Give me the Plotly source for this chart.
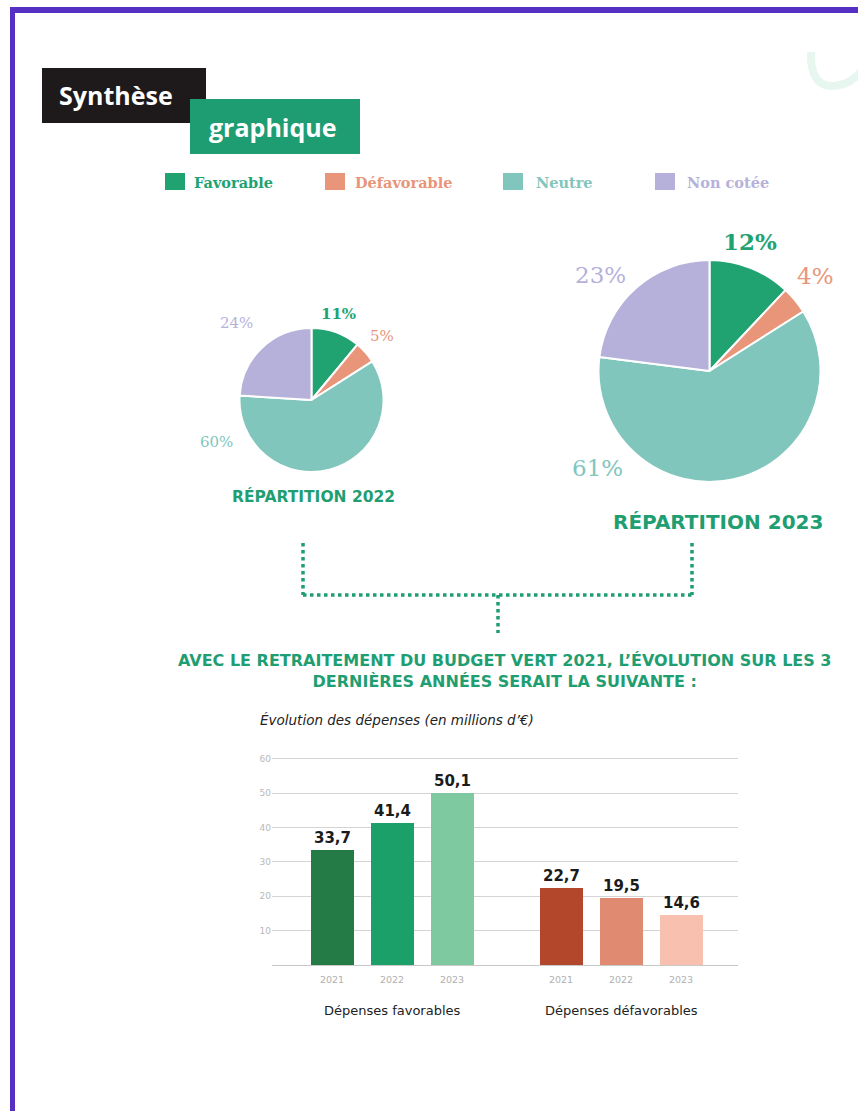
import plotly.graph_objects as go

W, H = 858, 1111

# ---------------- data ----------------
pie_labels = ["Favorable", "Défavorable", "Neutre", "Non cotée"]
pie_colors = ["#21a271", "#e8957a", "#80c6bd", "#b5b1db"]
pie_2022 = [11, 5, 60, 24]
pie_2023 = [12, 4, 61, 23]

years = ["2021", "2022", "2023"]
fav_values = [33.7, 41.4, 50.1]
defav_values = [22.7, 19.5, 14.6]
fav_colors = ["#247b46", "#1aa068", "#7ec9a0"]
defav_colors = ["#b3472b", "#e08b71", "#f8c0af"]
group_labels = ["Dépenses favorables", "Dépenses défavorables"]

GREEN = "#1f9e72"
SANS = "DejaVu Sans"
SERIF = "DejaVu Serif"


def X(px):
    return px / W


def Y(py):
    return 1 - py / H


def fmt(v):
    return f"{v:.1f}".replace(".", ",")


fig = go.Figure()

# ---------------- pies ----------------
def add_pie(values, cx, cy, r):
    fig.add_trace(go.Pie(
        labels=pie_labels, values=values, sort=False, direction="clockwise",
        rotation=0, textinfo="none", hoverinfo="label+percent",
        marker=dict(colors=pie_colors, line=dict(color="white", width=2)),
        domain=dict(x=[X(cx - r), X(cx + r)], y=[Y(cy + r), Y(cy - r)]),
        showlegend=False,
    ))

add_pie(pie_2022, 311.5, 400, 72)
add_pie(pie_2023, 709.5, 371, 111)

# ---------------- bars ----------------
step = 60.0
offset2 = (561 - 332) / step
x_fav = [i for i in range(3)]
x_def = [offset2 + i for i in range(3)]
bar_w = 43 / step

bar_font = dict(family=SANS, size=15, color="#1b1b1b", weight="bold")
fig.add_trace(go.Bar(
    x=x_fav, y=fav_values, width=bar_w, marker=dict(color=fav_colors, line=dict(width=0)),
    text=[fmt(v) for v in fav_values], textposition="outside", cliponaxis=False,
    textfont=bar_font, showlegend=False, xaxis="x", yaxis="y",
))
fig.add_trace(go.Bar(
    x=x_def, y=defav_values, width=bar_w, marker=dict(color=defav_colors, line=dict(width=0)),
    text=[fmt(v) for v in defav_values], textposition="outside", cliponaxis=False,
    textfont=bar_font, showlegend=False, xaxis="x", yaxis="y",
))

x_left_px, x_right_px = 272, 738
xr = [(x_left_px - 332) / step, (x_right_px - 332) / step]
px_per_unit = (965 - 759) / 60.0
y_top = 61

fig.update_layout(
    width=W, height=H, margin=dict(l=0, r=0, t=0, b=0),
    paper_bgcolor="white", plot_bgcolor="white",
    xaxis=dict(domain=[X(x_left_px), X(x_right_px)], range=xr,
               tickvals=x_fav + x_def, ticktext=years + years,
               tickfont=dict(family=SANS, size=9.5, color="#b0b0b0"),
               ticklabelstandoff=6,
               showgrid=False, zeroline=False, showline=True, linecolor="#c8c8c8",
               linewidth=1, ticks="", anchor="y"),
    yaxis=dict(domain=[Y(965), Y(965 - px_per_unit * y_top)], range=[0, y_top],
               tickvals=[10, 20, 30, 40, 50, 60],
               tickfont=dict(family=SANS, size=9, color="#b8b8b8"),
               showgrid=True, gridcolor="#d4d4d4", gridwidth=1,
               zeroline=False, showline=False, ticks="", anchor="x"),
    bargap=0,
)

shapes = []
ann = []

# purple frame
PURPLE = "#5530c2"
shapes.append(dict(type="rect", xref="paper", yref="paper", x0=X(10), x1=X(15), y0=Y(1111), y1=Y(7),
                   fillcolor=PURPLE, line=dict(width=0), layer="above"))
shapes.append(dict(type="rect", xref="paper", yref="paper", x0=X(10), x1=X(858), y0=Y(13), y1=Y(7),
                   fillcolor=PURPLE, line=dict(width=0), layer="above"))

# decoration top right
shapes.append(dict(type="path", xref="paper", yref="paper",
                   path=f"M {X(811)} {Y(52)} Q {X(810)} {Y(84)} {X(830)} {Y(86)} Q {X(850)} {Y(86)} {X(862)} {Y(70)}",
                   line=dict(color="#e8f6f0", width=8), layer="below"))

# header boxes
shapes.append(dict(type="rect", xref="paper", yref="paper", x0=X(42), x1=X(206), y0=Y(123), y1=Y(68),
                   fillcolor="#1e1a1b", line=dict(width=0)))
shapes.append(dict(type="rect", xref="paper", yref="paper", x0=X(190), x1=X(360), y0=Y(154), y1=Y(99),
                   fillcolor="#1f9d72", line=dict(width=0)))
ann.append(dict(text="Synthèse", x=X(57), y=Y(95), xanchor="left", yanchor="middle",
                font=dict(family="Open Sans", size=25, color="white", weight="bold")))
ann.append(dict(text="graphique", x=X(272), y=Y(127), xanchor="center", yanchor="middle",
                font=dict(family="Open Sans", size=25, color="white", weight="bold")))

# legend
leg_sq = [165, 325, 503, 655]
leg_tx = [192, 353, 534, 685]
for lab, col, sx, tx in zip(pie_labels, pie_colors, leg_sq, leg_tx):
    shapes.append(dict(type="rect", xref="paper", yref="paper", x0=X(sx), x1=X(sx + 20),
                       y0=Y(190), y1=Y(173), fillcolor=col, line=dict(width=0)))
    ann.append(dict(text=lab, x=X(tx), y=Y(182), xanchor="left", yanchor="middle",
                    font=dict(family=SERIF, size=14.5, color=col, weight="bold")))

# pie percent labels
weights = ["bold", "normal", "normal", "normal"]
p22_pos = [(338, 314), (382, 336), (216, 442), (237, 323)]
for v, col, wt, (px, py) in zip(pie_2022, pie_colors, weights, p22_pos):
    ann.append(dict(text=f"{v}%", x=X(px), y=Y(py), xanchor="center", yanchor="middle",
                    font=dict(family=SERIF, size=15, color=col, weight=wt)))
p23_pos = [(750, 242), (815, 276), (597, 468), (600, 275)]
for v, col, wt, (px, py) in zip(pie_2023, pie_colors, weights, p23_pos):
    ann.append(dict(text=f"{v}%", x=X(px), y=Y(py), xanchor="center", yanchor="middle",
                    font=dict(family=SERIF, size=23, color=col, weight=wt)))

ann.append(dict(text="RÉPARTITION 2022", x=X(313), y=Y(496), xanchor="center", yanchor="middle",
                font=dict(family=SANS, size=15.5, color=GREEN, weight="bold")))
ann.append(dict(text="RÉPARTITION 2023", x=X(718), y=Y(522), xanchor="center", yanchor="middle",
                font=dict(family=SANS, size=20, color=GREEN, weight="bold")))

# dotted connector
dot = dict(color=GREEN, width=3.5, dash="dot")
for (x0, y0, x1, y1) in [(303, 543, 303, 595), (692, 543, 692, 595), (303, 595, 692, 595), (498, 595, 498, 633)]:
    shapes.append(dict(type="line", xref="paper", yref="paper", x0=X(x0), y0=Y(y0), x1=X(x1), y1=Y(y1),
                       line=dot))

# heading
ann.append(dict(text="AVEC LE RETRAITEMENT DU BUDGET VERT 2021, L’ÉVOLUTION SUR LES 3<br>DERNIÈRES ANNÉES SERAIT LA SUIVANTE :",
                x=X(504), y=Y(671), xanchor="center", yanchor="middle", align="center",
                font=dict(family=SANS, size=16, color=GREEN, weight="bold")))

ann.append(dict(text="<i>Évolution des dépenses (en millions d’€)</i>", x=X(258), y=Y(720),
                xanchor="left", yanchor="middle",
                font=dict(family=SANS, size=13.5, color="#222222")))

# group labels
for lab, xs in zip(group_labels, [x_fav, x_def]):
    ann.append(dict(text=lab, xref="x", yref="paper", x=sum(xs) / len(xs), y=Y(1010),
                    xanchor="center", yanchor="middle", showarrow=False,
                    font=dict(family=SANS, size=13, color="#222222")))

for a in ann:
    a.setdefault("xref", "paper")
    a.setdefault("yref", "paper")
    a["showarrow"] = False

fig.update_layout(shapes=shapes, annotations=ann)
fig.write_html("out.html", config={"displayModeBar": False},
               post_script="document.body.style.margin='0';document.body.style.overflow='hidden';")
